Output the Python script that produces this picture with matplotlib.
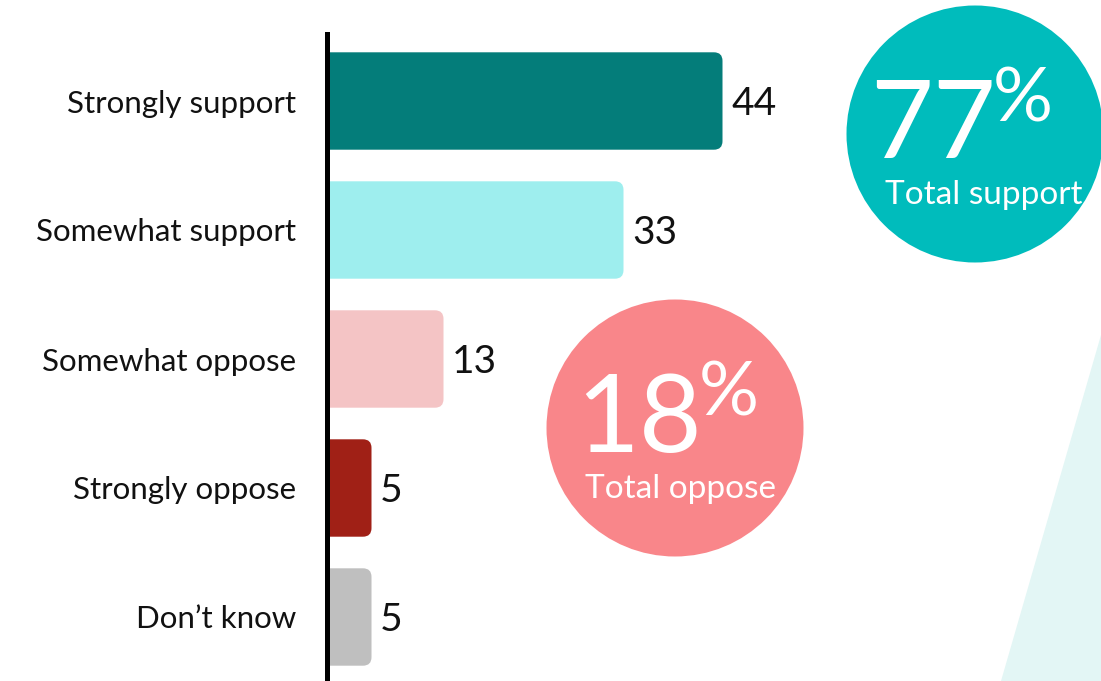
import matplotlib
matplotlib.use("Agg")
import matplotlib.pyplot as plt
from matplotlib.patches import FancyBboxPatch, Circle, Polygon

categories = ["Strongly support", "Somewhat support", "Somewhat oppose", "Strongly oppose", "Don\u2019t know"]
values = [44, 33, 13, 5, 5]
bar_colors = ["#047d7a", "#9eeeee", "#f4c4c5", "#a02016", "#bfbfbf"]

totals = ["77", "18"]
total_labels = ["Total support", "Total oppose"]
total_colors = ["#00bcbc", "#f9868a"]

plt.rcParams['font.family'] = ['Lato', 'DejaVu Sans']

W, H = 1101, 681
fig = plt.figure(figsize=(W / 100, H / 100), dpi=100)

# background layer in pixel coordinates for the decorations
bg = fig.add_axes([0, 0, 1, 1])
bg.set_xlim(0, W)
bg.set_ylim(H, 0)
bg.axis("off")
bg.add_patch(Polygon([(1001, 681), (1101, 335), (1101, 681)], closed=True,
                     facecolor="#e3f6f5", edgecolor="none"))

# bar axes: left spine at x=326.5px, top at y=34px
x0, top = 326.5, 34
px_per_unit = 9.0
pitch = 129.0
ax = fig.add_axes([x0 / W, 0, (W - x0) / W, (H - top) / H])
ax.patch.set_alpha(0)
ax.set_xlim(0, (W - x0) / px_per_unit)
first = 67 / pitch
ax.set_ylim((H - top - 67) / pitch, -first)

bar_h = 0.755
aspect = px_per_unit / pitch
for i, (v, c) in enumerate(zip(values, bar_colors)):
    p = FancyBboxPatch((-2, i - bar_h / 2), v + 2, bar_h,
                       boxstyle="round,pad=0,rounding_size=0.95",
                       mutation_aspect=aspect, facecolor=c, edgecolor="none")
    ax.add_patch(p)
    ax.text(v + 0.95, i + 0.02, f"{v}", va="center", ha="left",
            fontsize=28, color="#111111")

ax.set_yticks(range(len(categories)))
ax.set_yticklabels(categories, fontsize=22.5, color="#111111")
ax.tick_params(axis="y", length=0, pad=22)
ax.set_xticks([])
for s in ["top", "right", "bottom"]:
    ax.spines[s].set_visible(False)
ax.spines["left"].set_linewidth(3.6)
ax.spines["left"].set_color("black")

# total callouts
centers = [(975, 134), (675, 428)]
num_dx = [-105, -99]
for (cx, cy), dx, num, lab, col in zip(centers, num_dx, totals, total_labels, total_colors):
    bg.add_patch(Circle((cx, cy), 128.5, facecolor=col, edgecolor="none"))
    t = bg.text(cx + dx, cy + 24, num, fontsize=78,
                color="white", ha="left", va="baseline")
    fig.canvas.draw()
    bb = t.get_window_extent()
    bg.text(bb.x1 - 3, cy - 12, "%", fontsize=54,
            color="white", ha="left", va="baseline")
    bg.text(cx - 90, cy + 70, lab, fontsize=24,
            color="white", ha="left", va="baseline")

fig.savefig("out.png", dpi=100)
